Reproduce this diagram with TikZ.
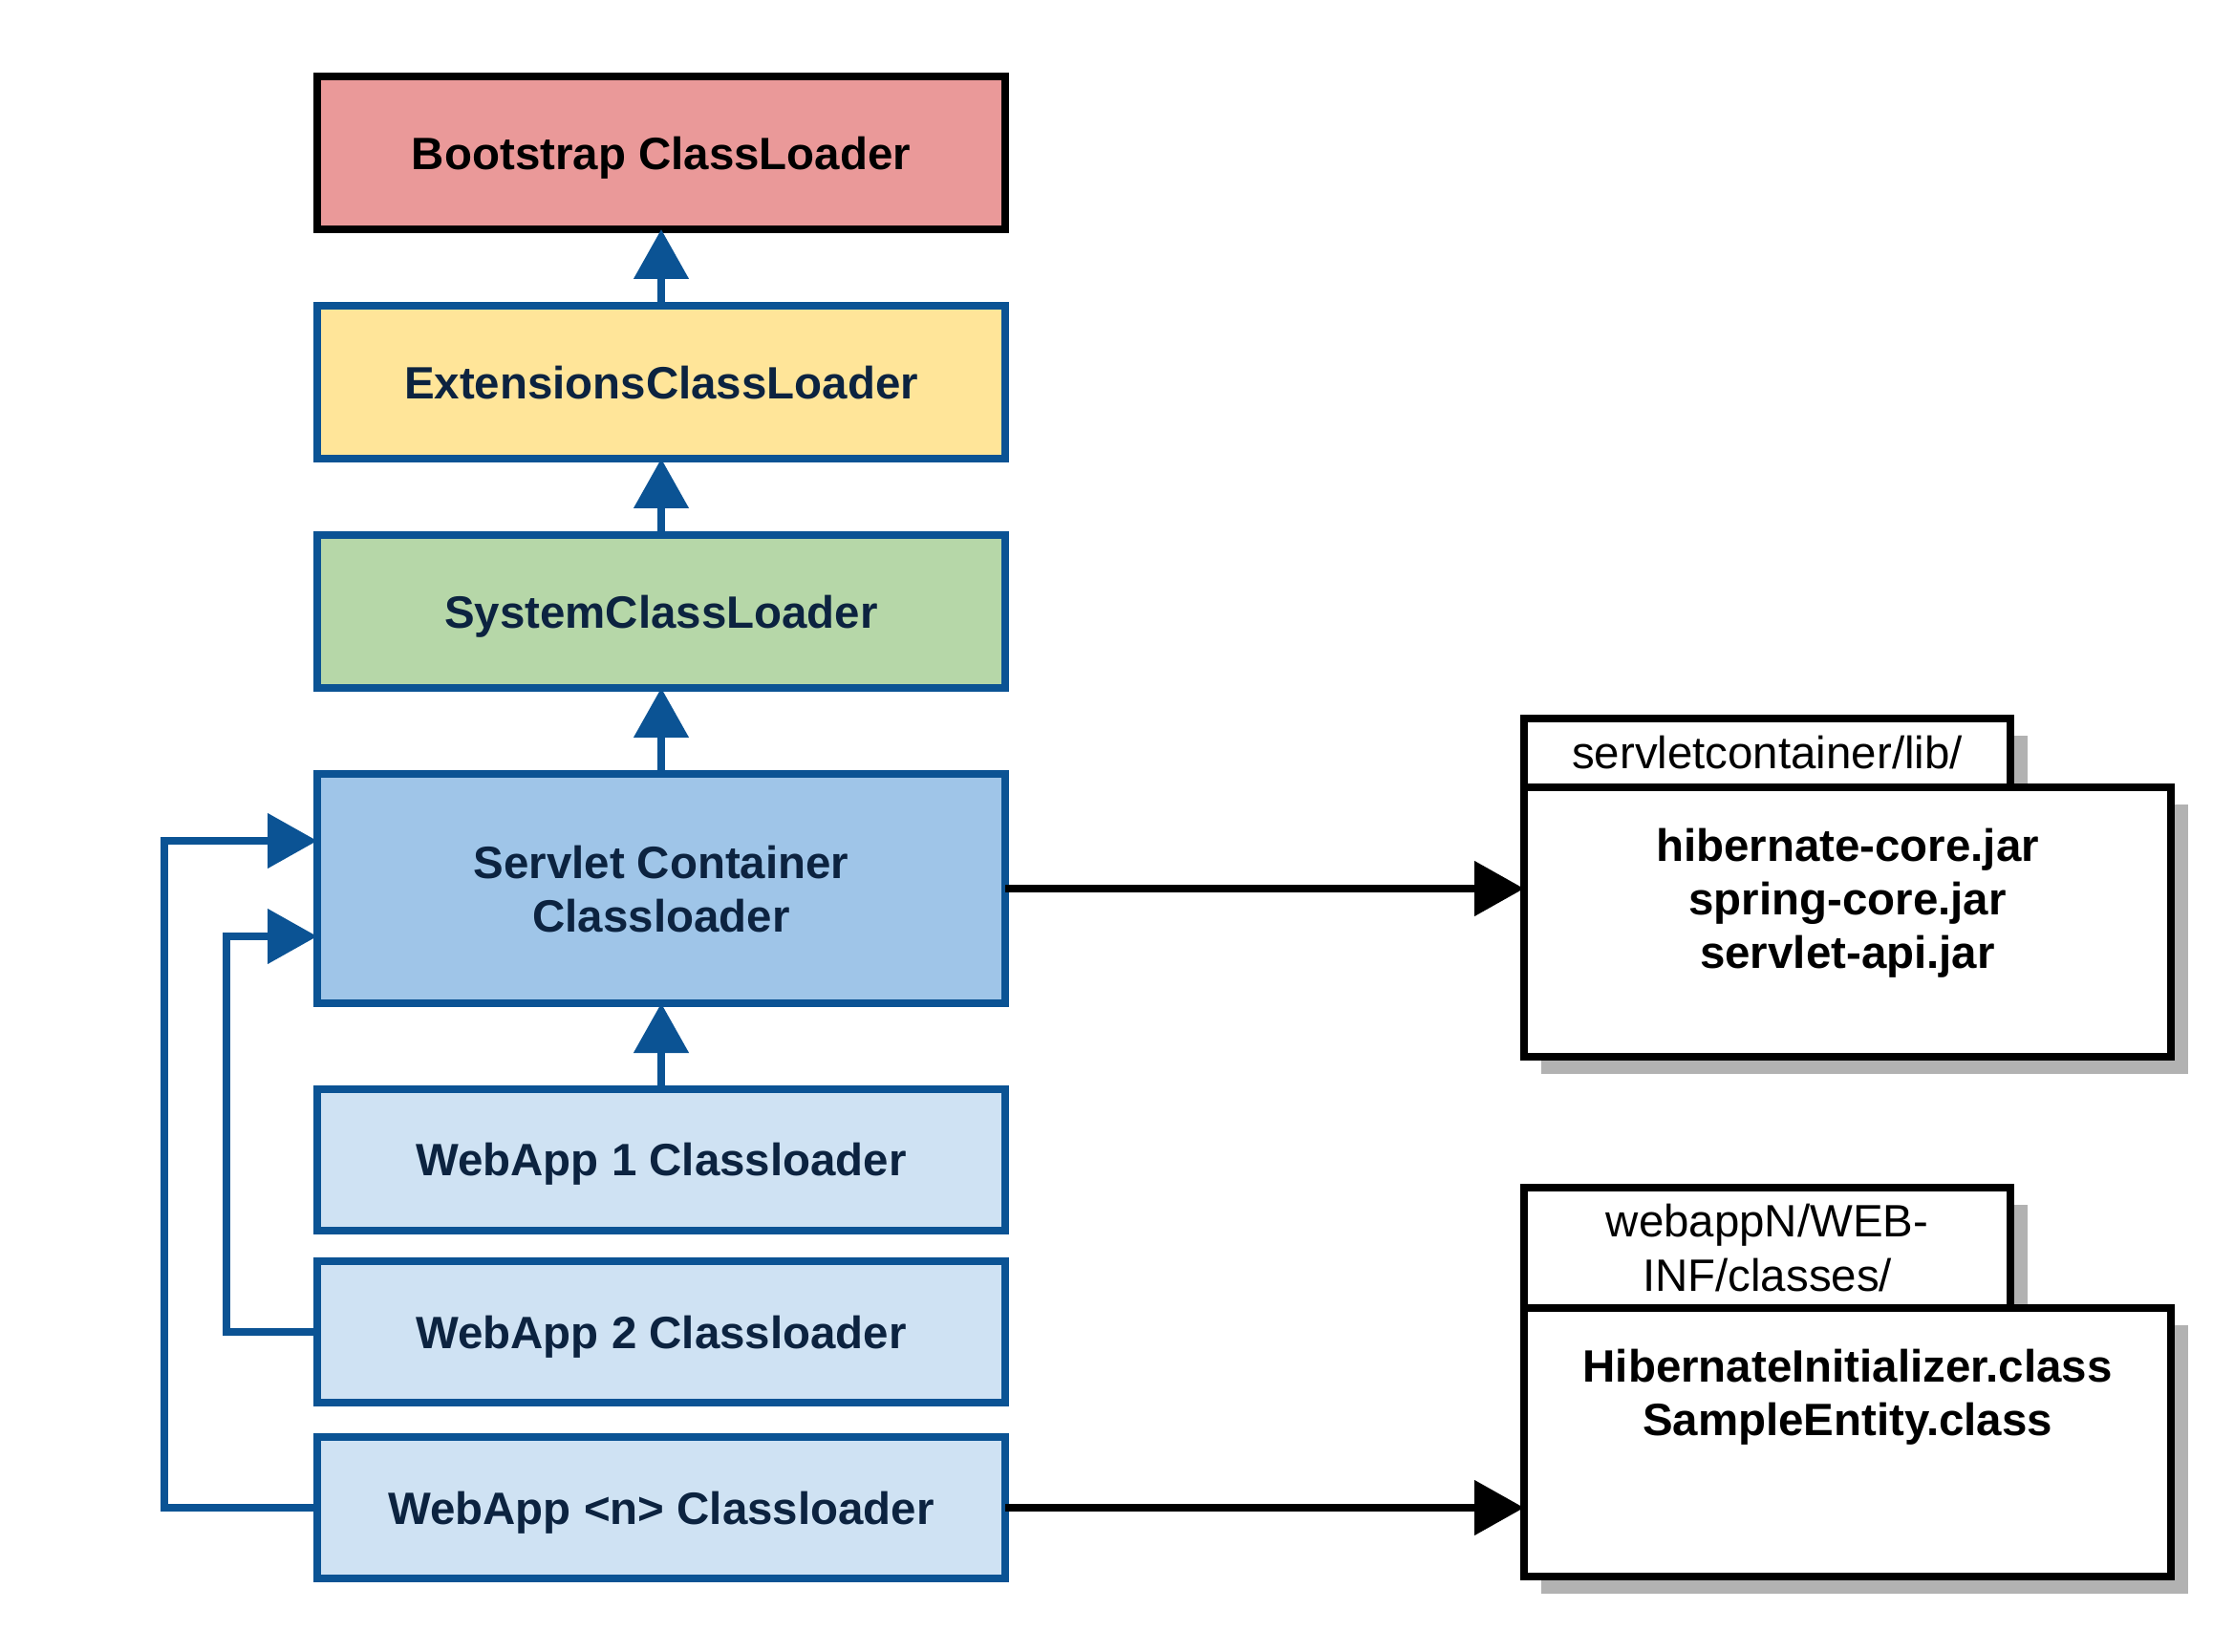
\documentclass[tikz,border=0pt]{standalone}
\usepackage{fontspec}
\setmainfont{Liberation Sans}
\usetikzlibrary{arrows.meta,positioning,shadows}
\definecolor{bootfill}{HTML}{EA9999}
\definecolor{extfill}{HTML}{FFE599}
\definecolor{sysfill}{HTML}{B6D7A8}
\definecolor{servfill}{HTML}{9FC5E8}
\definecolor{webfill}{HTML}{CFE2F3}
\definecolor{lineblue}{HTML}{0B5394}
\definecolor{textnavy}{HTML}{0C2340}
\begin{document}
\begin{tikzpicture}[
        loader/.style={draw=lineblue, line width=0.08cm, fill=#1, minimum width=7.2cm,
            minimum height=1.6cm, inner sep=0pt, outer sep=0pt, text=textnavy, text depth=0pt,
            font=\fontsize{13.5}{16}\selectfont\bfseries, align=center},
        feed/.style={draw=lineblue, line width=0.08cm, -{Triangle[length=0.52cm, width=0.56cm]}},
        link/.style={draw=black, line width=0.08cm, -{Triangle[length=0.52cm, width=0.56cm]}},
        folder/.style={draw=black, line width=0.08cm, fill=white, inner sep=0pt, outer sep=0pt,
            drop shadow={shadow xshift=0.18cm, shadow yshift=-0.18cm, fill=black!30, opacity=1},
            font=\fontsize{13.5}{16}\selectfont, align=center},
        files/.style={inner sep=0pt, font=\fontsize{13.5}{16}\selectfont\bfseries, align=center}
    ]
        \useasboundingbox (0, 0) rectangle (23.38, 17.28);

        % Chaine des classloaders (gauche)
        \node [loader=bootfill, draw=black, text=black] (boot) at (6.92, 15.68) {Bootstrap ClassLoader};
        \node [loader=extfill] (ext) at (6.92, 13.28) {ExtensionsClassLoader};
        \node [loader=sysfill] (sys) at (6.92, 10.88) {SystemClassLoader};
        \node [loader=servfill, minimum height=2.4cm] (servlet) at (6.92, 7.98) {Servlet Container\\Classloader};
        \node [loader=webfill, minimum height=1.48cm] (web1) at (6.92, 5.145) {WebApp 1 Classloader};
        \node [loader=webfill, minimum height=1.48cm] (web2) at (6.92, 3.34) {WebApp 2 Classloader};
        \node [loader=webfill, minimum height=1.48cm] (webn) at (6.92, 1.50) {WebApp <n> Classloader};

        % Delegation vers le parent
        \draw [feed] (ext) -- (boot);
        \draw [feed] (sys) -- (ext);
        \draw [feed] (servlet) -- (sys);
        \draw [feed] (web1) -- (servlet);
        \draw [feed] (web2.west) -- ++(-0.95, 0) |- ([yshift=-0.5cm]servlet.west);
        \draw [feed] (webn.west) -- ++(-1.60, 0) |- ([yshift=0.5cm]servlet.west);

        % Dossier servletcontainer/lib/ (haut-droite)
        \node [folder, minimum width=5.09cm, minimum height=0.72cm] (libtab) at (18.495, 9.40) {servletcontainer/lib/};
        \node [folder, minimum width=6.77cm, minimum height=2.82cm] (lib) at (19.335, 7.63) {};
        \node [files, below=0.42cm of lib.north] (libfiles) {hibernate-core.jar\\spring-core.jar\\servlet-api.jar};

        % Dossier webappN/WEB-INF/classes/ (bas-droite)
        \node [folder, minimum width=5.09cm, minimum height=1.26cm] (clstab) at (18.495, 4.22) {webappN/WEB-\\INF/classes/};
        \node [folder, minimum width=6.77cm, minimum height=2.81cm] (cls) at (19.335, 2.185) {};
        \node [files, below=0.42cm of cls.north] (clsfiles) {HibernateInitializer.class\\SampleEntity.class};

        % Liens vers les dossiers
        \draw [link] (servlet.east) -- (servlet.east -| lib.west);
        \draw [link] (webn.east) -- (webn.east -| cls.west);
    \end{tikzpicture}
\end{document}
